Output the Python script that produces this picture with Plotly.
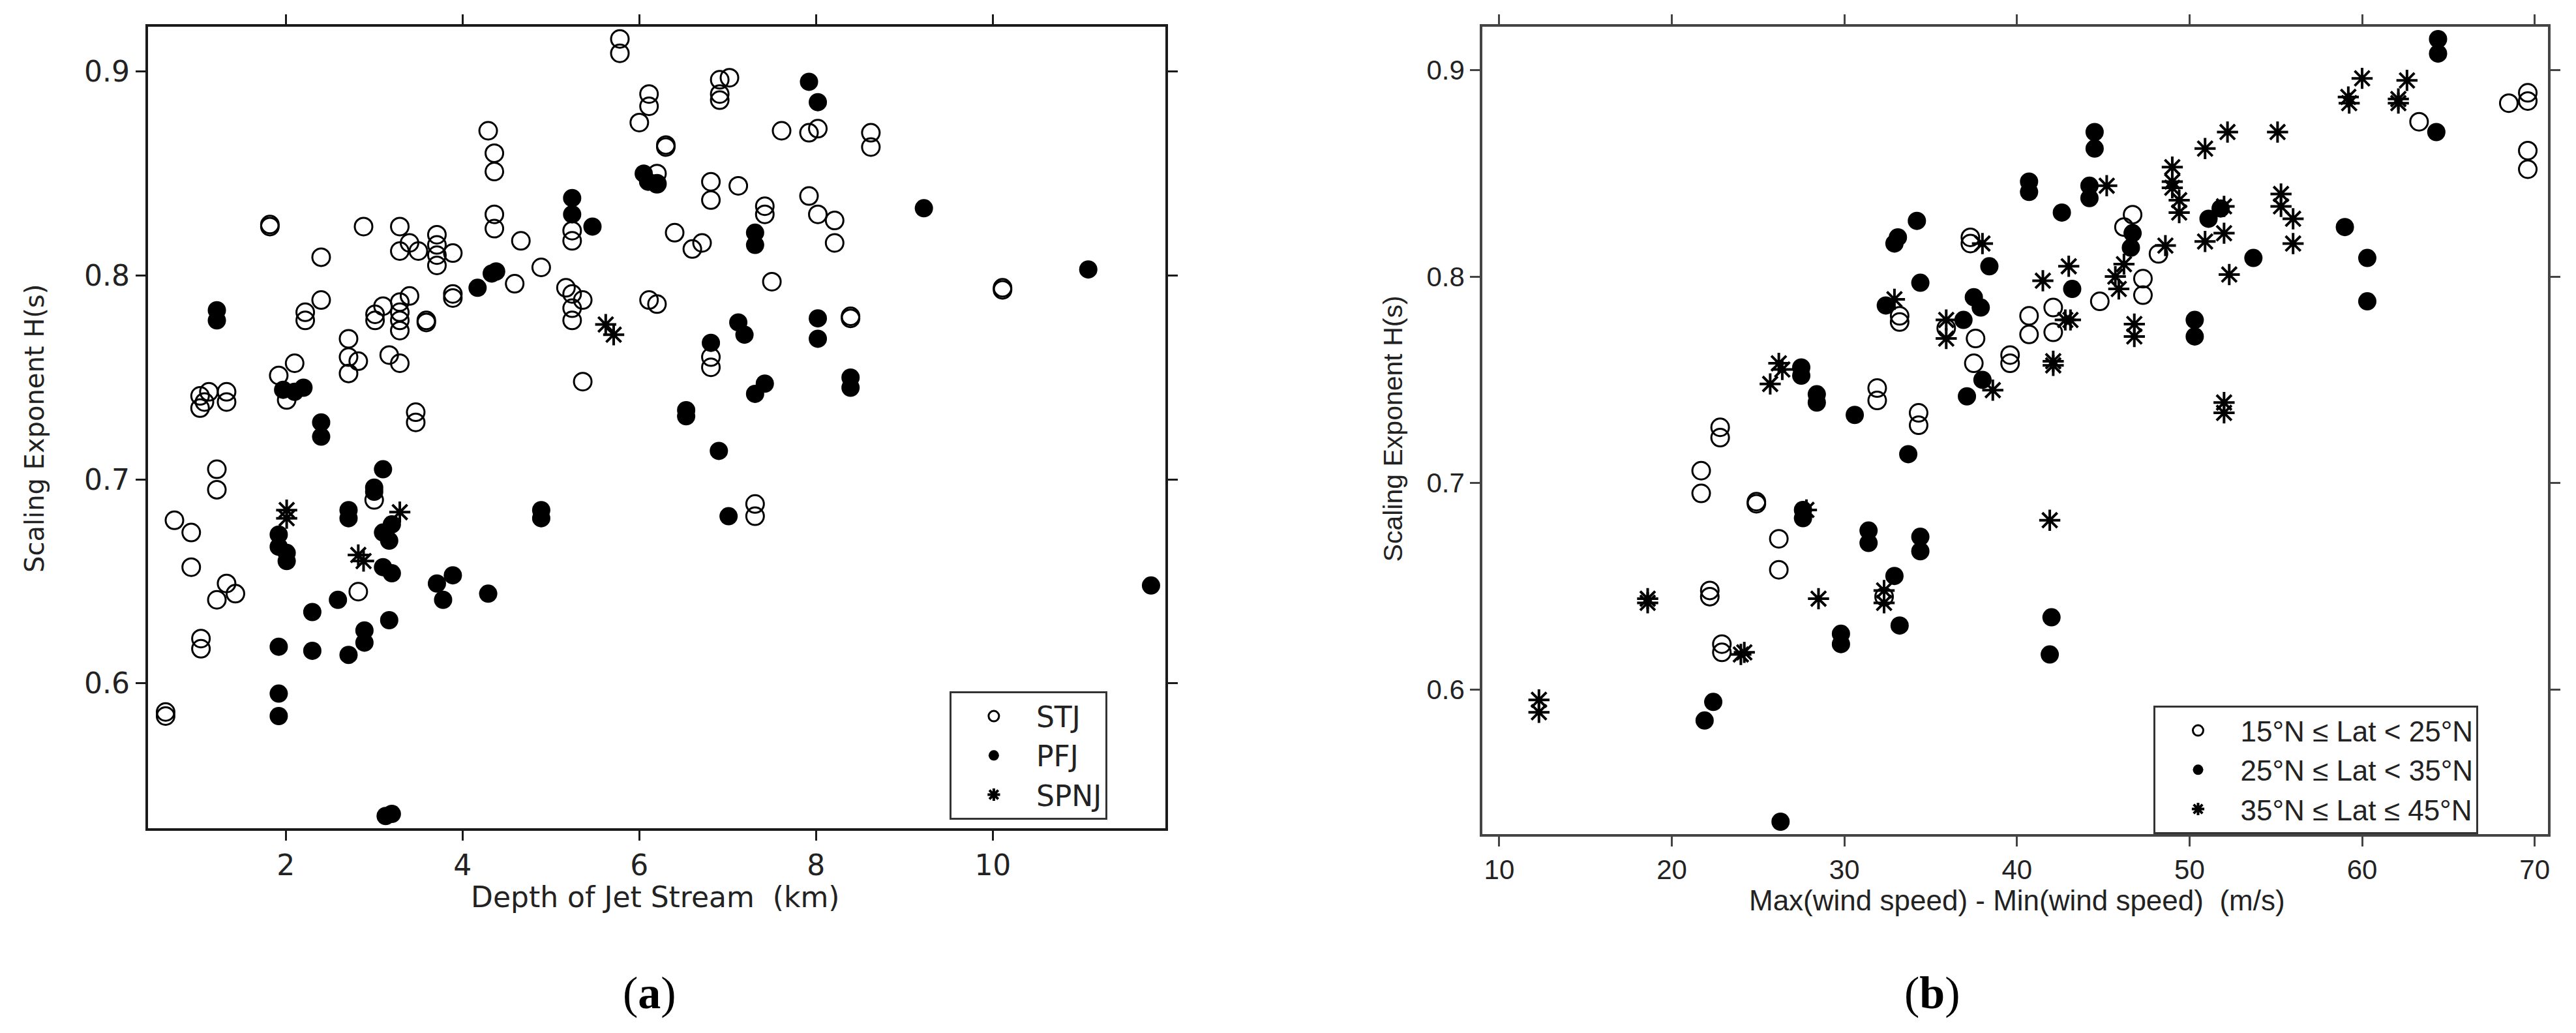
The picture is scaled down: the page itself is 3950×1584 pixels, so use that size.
import plotly.graph_objects as go

# ---------------- Panel (a): Depth of jet stream vs scaling exponent ----------------
a_stj_x = [5.78, 5.78, 6.11, 6.11, 6.0, 4.29, 4.36, 4.36, 4.36, 4.36, 4.66, 1.82, 1.82, 2.88, 3.29, 3.40, 3.29, 3.50,
           3.71, 3.71, 3.71, 3.71, 3.89, 2.40, 4.89, 4.59, 3.89, 3.89, 5.24, 5.24, 5.17, 5.24, 5.36, 5.24, 5.24, 5.36,
           6.11, 6.20, 2.40, 2.22, 2.22, 3.40, 3.29, 3.29, 3.29, 3.29, 3.10, 3.01, 3.01, 3.59, 3.59, 2.71, 2.71, 2.82,
           2.71, 3.17, 3.29, 2.10, 1.92, 2.01, 3.47, 3.47, 1.03, 1.03, 1.13, 1.33, 1.33, 1.08, 1.22, 1.22, 6.91, 7.02,
           6.91, 6.91, 7.61, 7.92, 8.02, 8.62, 8.62, 6.30, 6.30, 6.81, 6.81, 7.12, 7.42, 7.42, 7.92, 8.02, 8.21, 8.21,
           6.40, 6.60, 6.71, 7.50, 10.11, 10.11, 8.39, 8.39, 6.81, 6.81, 7.31, 7.31, 6.20, 6.20, 0.74, 0.93, 0.93,
           1.33, 1.43, 1.22, 1.04, 1.04, 0.64, 0.64, 2.82, 3.00]
a_stj_y = [0.916, 0.909, 0.889, 0.883, 0.875, 0.871, 0.860, 0.851, 0.830, 0.823, 0.817, 0.825, 0.824, 0.824, 0.824,
           0.816, 0.812, 0.812, 0.820, 0.815, 0.810, 0.805, 0.811, 0.809, 0.804, 0.796, 0.791, 0.789, 0.822, 0.817,
           0.794, 0.791, 0.788, 0.784, 0.778, 0.748, 0.788, 0.786, 0.788, 0.782, 0.778, 0.790, 0.787, 0.782, 0.778,
           0.773, 0.785, 0.781, 0.778, 0.778, 0.777, 0.769, 0.760, 0.758, 0.752, 0.761, 0.757, 0.757, 0.751, 0.739,
           0.733, 0.728, 0.741, 0.735, 0.743, 0.743, 0.738, 0.738, 0.705, 0.695, 0.896, 0.897, 0.889, 0.886, 0.871,
           0.870, 0.872, 0.870, 0.863, 0.864, 0.863, 0.846, 0.837, 0.844, 0.834, 0.830, 0.839, 0.830, 0.827, 0.816,
           0.821, 0.813, 0.816, 0.797, 0.794, 0.793, 0.779, 0.780, 0.760, 0.755, 0.688, 0.682, 0.850, 0.845, 0.680,
           0.674, 0.657, 0.649, 0.644, 0.641, 0.622, 0.617, 0.586, 0.584, 0.645, 0.690]

a_pfj_x = [1.22, 1.22, 2.40, 2.40, 3.10, 5.24, 5.24, 5.47, 4.33, 4.38, 4.17, 1.97, 2.20, 2.10, 6.05, 6.10, 6.20, 7.92,
           8.02, 9.22, 7.31, 7.31, 11.08, 7.12, 7.19, 8.02, 8.02, 6.81, 7.42, 7.31, 8.39, 8.39, 6.53, 6.53, 6.90, 7.01,
           11.79, 3.00, 3.00, 2.71, 2.71, 3.10, 3.20, 3.17, 1.92, 1.92, 2.01, 2.01, 3.10, 3.20, 3.71, 3.89, 3.78, 4.29,
           4.89, 4.89, 2.59, 2.30, 3.17, 2.89, 2.89, 1.92, 2.30, 2.71, 1.92, 1.92, 3.13, 3.20]
a_pfj_y = [0.783, 0.778, 0.728, 0.721, 0.705, 0.838, 0.830, 0.824, 0.801, 0.802, 0.794, 0.744, 0.745, 0.743, 0.850,
           0.846, 0.845, 0.895, 0.885, 0.833, 0.821, 0.815, 0.803, 0.777, 0.771, 0.779, 0.769, 0.767, 0.747, 0.742,
           0.750, 0.745, 0.734, 0.731, 0.714, 0.682, 0.648, 0.696, 0.694, 0.685, 0.681, 0.674, 0.678, 0.670, 0.673,
           0.667, 0.664, 0.660, 0.657, 0.654, 0.649, 0.653, 0.641, 0.644, 0.685, 0.681, 0.641, 0.635, 0.631, 0.626,
           0.620, 0.618, 0.616, 0.614, 0.595, 0.584, 0.535, 0.536]

a_spnj_x = [2.01, 2.01, 3.29, 2.82, 2.88, 5.62, 5.71]
a_spnj_y = [0.685, 0.681, 0.684, 0.663, 0.660, 0.776, 0.771]

a_x_ticks = [2, 4, 6, 8, 10]
a_x_ticktext = ["2", "4", "6", "8", "10"]
a_y_ticks = [0.6, 0.7, 0.8, 0.9]
a_y_ticktext = ["0.6", "0.7", "0.8", "0.9"]
a_names = ["STJ", "PFJ", "SPNJ"]

# ---------------- Panel (b): wind-speed range vs scaling exponent ----------------
b_lat1_x = [21.7, 21.7, 22.8, 22.8, 24.9, 24.9, 26.2, 26.2, 22.2, 22.2, 22.9, 22.9, 32.3, 31.9, 31.9, 34.3, 34.3,
            33.2, 33.2, 37.3, 37.3, 37.6, 37.5, 35.9, 39.6, 39.6, 40.7, 40.7, 42.1, 42.1, 44.8, 46.7, 46.2, 47.3,
            47.3, 48.2, 63.3, 68.5, 69.6, 69.6, 69.6, 69.6]
b_lat1_y = [0.706, 0.695, 0.727, 0.722, 0.691, 0.690, 0.673, 0.658, 0.648, 0.645, 0.622, 0.618, 0.645, 0.746, 0.740,
            0.734, 0.728, 0.781, 0.778, 0.819, 0.816, 0.770, 0.758, 0.775, 0.762, 0.758, 0.781, 0.772, 0.785, 0.773,
            0.788, 0.830, 0.824, 0.799, 0.791, 0.811, 0.875, 0.884, 0.889, 0.885, 0.861, 0.852]

b_lat2_x = [26.3, 21.9, 22.4, 29.8, 29.8, 33.2, 32.9, 31.4, 31.4, 34.4, 34.4, 27.6, 27.6, 33.7, 30.6, 28.4, 28.4,
            27.5, 27.5, 32.4, 33.1, 32.9, 34.2, 34.4, 37.1, 38.0, 36.9, 37.5, 37.9, 38.4, 40.7, 40.7, 42.6, 43.2,
            44.2, 44.2, 44.5, 44.5, 46.7, 46.6, 50.3, 50.3, 51.1, 51.8, 53.7, 59.0, 60.3, 60.3, 64.4, 64.4, 64.3,
            42.0, 41.9]
b_lat2_y = [0.536, 0.585, 0.594, 0.627, 0.622, 0.631, 0.655, 0.677, 0.671, 0.674, 0.667, 0.687, 0.683, 0.714, 0.733,
            0.743, 0.739, 0.756, 0.752, 0.786, 0.819, 0.816, 0.827, 0.797, 0.742, 0.750, 0.779, 0.790, 0.785, 0.805,
            0.846, 0.841, 0.831, 0.794, 0.844, 0.838, 0.870, 0.862, 0.821, 0.814, 0.779, 0.771, 0.828, 0.833, 0.809,
            0.824, 0.809, 0.788, 0.915, 0.908, 0.870, 0.635, 0.617]

b_lat3_x = [12.3, 12.3, 18.6, 18.6, 24.0, 24.2, 25.7, 26.2, 26.4, 27.8, 28.5, 32.3, 32.3, 32.9, 35.9, 35.9, 38.0,
            38.6, 41.5, 41.9, 42.1, 42.1, 43.0, 43.1, 42.8, 45.2, 46.2, 45.7, 45.9, 46.8, 46.8, 48.6, 49.0, 49.0,
            49.0, 49.4, 49.4, 50.9, 50.9, 52.0, 52.0, 52.2, 52.3, 52.0, 52.0, 55.1, 55.3, 55.3, 56.0, 56.0, 59.2,
            59.25, 60.0, 62.6, 62.1, 62.1]
b_lat3_y = [0.595, 0.589, 0.644, 0.642, 0.617, 0.618, 0.748, 0.758, 0.755, 0.687, 0.644, 0.648, 0.642, 0.789, 0.779,
            0.770, 0.816, 0.745, 0.798, 0.682, 0.759, 0.757, 0.805, 0.779, 0.779, 0.844, 0.806, 0.800, 0.794, 0.777,
            0.771, 0.815, 0.853, 0.846, 0.843, 0.837, 0.831, 0.862, 0.817, 0.834, 0.821, 0.870, 0.801, 0.739, 0.734,
            0.870, 0.840, 0.834, 0.828, 0.816, 0.887, 0.884, 0.896, 0.895, 0.886, 0.884]

b_x_ticks = [10, 20, 30, 40, 50, 60, 70]
b_x_ticktext = ["10", "20", "30", "40", "50", "60", "70"]
b_y_ticks = [0.6, 0.7, 0.8, 0.9]
b_y_ticktext = ["0.6", "0.7", "0.8", "0.9"]
b_names = ["15°N ≤ Lat < 25°N", "25°N ≤ Lat < 35°N", "35°N ≤ Lat ≤ 45°N"]

W, H = 3950, 1584
FONT_A = "DejaVu Sans"
FONT_B = "Liberation Sans"
INK = "#222222"


def px(x):
    return x / W


def py(y):
    return 1 - y / H


open_m = dict(symbol="circle-open", size=27, color="black", line=dict(width=3, color="black"))
fill_m = dict(symbol="circle", size=28, color="black", line=dict(width=0))
star_m = dict(symbol="asterisk-open", size=27, color="black", line=dict(width=4, color="black"))

fig = go.Figure()
fig.add_trace(go.Scatter(x=a_stj_x, y=a_stj_y, mode="markers", name=a_names[0], marker=open_m,
                         xaxis="x", yaxis="y", legend="legend"))
fig.add_trace(go.Scatter(x=a_pfj_x, y=a_pfj_y, mode="markers", name=a_names[1], marker=fill_m,
                         xaxis="x", yaxis="y", legend="legend"))
fig.add_trace(go.Scatter(x=a_spnj_x, y=a_spnj_y, mode="markers", name=a_names[2], marker=star_m,
                         xaxis="x", yaxis="y", legend="legend"))

fig.add_trace(go.Scatter(x=b_lat1_x, y=b_lat1_y, mode="markers", name=b_names[0], marker=open_m,
                         xaxis="x2", yaxis="y2", legend="legend2"))
fig.add_trace(go.Scatter(x=b_lat2_x, y=b_lat2_y, mode="markers", name=b_names[1], marker=fill_m,
                         xaxis="x2", yaxis="y2", legend="legend2"))
fig.add_trace(go.Scatter(x=b_lat3_x, y=b_lat3_y, mode="markers", name=b_names[2], marker=star_m,
                         xaxis="x2", yaxis="y2", legend="legend2"))


def axis(domain, rng, tv, tt, anchor, family, size, lc):
    return dict(domain=domain, range=rng, tickvals=tv, ticktext=tt, anchor=anchor,
                ticks="outside", ticklen=15, tickwidth=3, tickcolor=lc,
                showline=True, linewidth=4, linecolor=lc, mirror="ticks",
                showgrid=False, zeroline=False,
                tickfont=dict(family=family, size=size, color=INK))


fig.update_layout(
    width=W, height=H,
    margin=dict(l=0, r=0, t=0, b=0),
    paper_bgcolor="white", plot_bgcolor="white",
    showlegend=True,
    xaxis=axis([px(227), px(1788)], [0.44, 11.95], a_x_ticks, a_x_ticktext, "y", FONT_A, 44, "#1a1a1a"),
    yaxis=axis([py(1270), py(41)], [0.529, 0.922], a_y_ticks, a_y_ticktext, "x", FONT_A, 44, "#1a1a1a"),
    xaxis2=axis([px(2275), px(3910)], [9.03, 70.77], b_x_ticks, b_x_ticktext, "y2", FONT_B, 42, "#444444"),
    yaxis2=axis([py(1279), py(41)], [0.53, 0.921], b_y_ticks, b_y_ticktext, "x2", FONT_B, 42, "#444444"),
    legend=dict(x=px(1457), y=py(1060), xanchor="left", yanchor="top",
                bordercolor="#333333", borderwidth=3, bgcolor="white",
                font=dict(family=FONT_A, size=44, color=INK), itemwidth=120),
    legend2=dict(x=px(3305), y=py(1082), xanchor="left", yanchor="top",
                 bordercolor="#333333", borderwidth=3, bgcolor="white",
                 font=dict(family=FONT_B, size=44, color=INK), itemwidth=120),
    annotations=[
        dict(text="Depth of Jet Stream  (km)", x=px(1006), y=py(1375), xref="paper", yref="paper",
             showarrow=False, xanchor="center", yanchor="middle",
             font=dict(family=FONT_A, size=44, color=INK)),
        dict(text="Scaling Exponent H(s)", x=px(53), y=py(657), xref="paper", yref="paper",
             showarrow=False, xanchor="center", yanchor="middle", textangle=-90,
             font=dict(family=FONT_A, size=40, color=INK)),
        dict(text="Max(wind speed) - Min(wind speed)  (m/s)", x=px(3095), y=py(1380), xref="paper",
             yref="paper", showarrow=False, xanchor="center", yanchor="middle",
             font=dict(family=FONT_B, size=44, color=INK)),
        dict(text="Scaling Exponent H(s)", x=px(2138), y=py(657), xref="paper", yref="paper",
             showarrow=False, xanchor="center", yanchor="middle", textangle=-90,
             font=dict(family=FONT_B, size=41, color=INK)),
        dict(text="(<b>a</b>)", x=px(997), y=py(1522), xref="paper", yref="paper",
             showarrow=False, xanchor="center", yanchor="middle",
             font=dict(family="Liberation Serif", size=70, color="black")),
        dict(text="(<b>b</b>)", x=px(2965), y=py(1522), xref="paper", yref="paper",
             showarrow=False, xanchor="center", yanchor="middle",
             font=dict(family="Liberation Serif", size=70, color="black")),
    ],
)

fig.write_html("out.html", config={"displayModeBar": False},
               post_script="document.body.style.margin='0';")
